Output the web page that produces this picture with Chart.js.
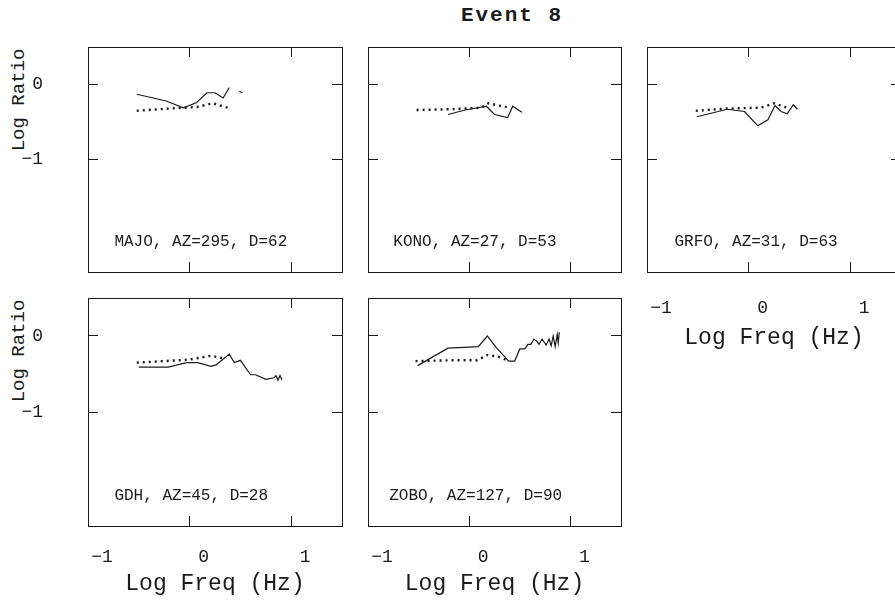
<!DOCTYPE html>
<html>
<head>
<meta charset="utf-8">
<title>Event 8</title>
<script src="https://cdn.jsdelivr.net/npm/chart.js@4.4.1/dist/chart.umd.min.js"></script>
<style>
  body {
    margin: 0;
    width: 895px;
    height: 606px;
    overflow: hidden;
    position: relative;
    background: #fff;
    color: #1a1a1a;
    font-family: "Liberation Mono", monospace;
  }
  canvas { position: absolute; }
  .title {
    position: absolute;
    left: 512px;
    top: 15px;
    transform: translate(-50%, -50%);
    font-weight: bold;
    font-size: 21px;
    letter-spacing: 2px;
    white-space: nowrap;
  }
  .ylabel {
    position: absolute;
    left: 19px;
    font-size: 19px;
    white-space: nowrap;
    transform: translate(-50%, -50%) rotate(-90deg);
  }
</style>
</head>
<body>
<div class="title">Event 8</div>
<div class="ylabel" style="top: 100px">Log Ratio</div>
<div class="ylabel" style="top: 351px">Log Ratio</div>

<script>
// axis ticks (the reference prints only these)
const xTickVals = [-1, 0, 1];
const xTickLabels = ["\u22121", "0", "1"];
const yTickVals = [-1, 0];
const yTickLabels = ["\u22121", "0"];

const stations = [
  "MAJO, AZ=295, D=62",
  "KONO, AZ=27, D=53",
  "GRFO, AZ=31, D=63",
  "GDH, AZ=45, D=28",
  "ZOBO, AZ=127, D=90",
];

// observed ratio (solid) and model ratio (dotted), log freq vs log ratio
const majoObsX = [-0.52, -0.23, -0.06, 0.07, 0.17, 0.25, 0.33, 0.39, 0.45, 0.49, 0.52];
const majoObsY = [-0.13, -0.22, -0.31, -0.24, -0.11, -0.11, -0.18, -0.04, null, -0.09, -0.11];
const majoModX = [-0.52, -0.3, -0.06, 0.07, 0.17, 0.23, 0.3, 0.38];
const majoModY = [-0.35, -0.33, -0.31, -0.3, -0.27, -0.25, -0.28, -0.31];

const konoObsX = [-0.21, -0.04, 0.17, 0.25, 0.38, 0.43, 0.52];
const konoObsY = [-0.4, -0.34, -0.29, -0.4, -0.44, -0.29, -0.37];
const konoModX = [-0.52, -0.2, 0.12, 0.19, 0.29, 0.4];
const konoModY = [-0.34, -0.33, -0.31, -0.25, -0.28, -0.31];

const grfoObsX = [-0.51, -0.21, -0.04, 0.09, 0.19, 0.26, 0.32, 0.38, 0.44, 0.48];
const grfoObsY = [-0.43, -0.33, -0.36, -0.55, -0.47, -0.28, -0.36, -0.39, -0.27, -0.33];
const grfoModX = [-0.52, -0.21, 0.12, 0.25, 0.38];
const grfoModY = [-0.35, -0.32, -0.31, -0.25, -0.31];

const gdhObsX = [-0.5, -0.21, -0.03, 0.08, 0.21, 0.26, 0.39, 0.44, 0.5, 0.6, 0.65, 0.75, 0.83, 0.85, 0.87, 0.89, 0.91];
const gdhObsY = [-0.41, -0.41, -0.35, -0.35, -0.4, -0.38, -0.24, -0.35, -0.32, -0.51, -0.51, -0.57, -0.55, -0.52, -0.58, -0.52, -0.58];
const gdhModX = [-0.52, -0.25, 0, 0.21, 0.36];
const gdhModY = [-0.35, -0.33, -0.31, -0.26, -0.3];

const zoboObsX = [-0.51, -0.21, -0.05, 0.09, 0.18, 0.26, 0.39, 0.45, 0.5, 0.55, 0.58, 0.61, 0.64, 0.67, 0.69, 0.72, 0.76, 0.79, 0.81, 0.83, 0.85, 0.87, 0.88, 0.89];
const zoboObsY = [-0.39, -0.16, -0.15, -0.14, 0.0, -0.14, -0.33, -0.33, -0.17, -0.17, -0.11, -0.11, -0.04, -0.07, -0.11, -0.04, -0.12, -0.04, -0.13, 0.0, -0.14, 0.02, -0.09, 0.05];
const zoboModX = [-0.53, -0.2, 0.08, 0.18, 0.28, 0.38];
const zoboModY = [-0.33, -0.32, -0.32, -0.25, -0.27, -0.32];

const ink = "#1a1a1a";
const monoFamily = "'Liberation Mono', monospace";

// panel layout: plot box [left, top, width, height] in page pixels
const panels = [
  { name: 0, obsX: majoObsX, obsY: majoObsY, modX: majoModX, modY: majoModY, box: [88, 47, 254, 225], yLabels: true, xLabels: false, textX: -0.74 },
  { name: 1, obsX: konoObsX, obsY: konoObsY, modX: konoModX, modY: konoModY, box: [368, 47, 253, 225], yLabels: false, xLabels: false, textX: -0.75 },
  { name: 2, obsX: grfoObsX, obsY: grfoObsY, modX: grfoModX, modY: grfoModY, box: [647, 47, 254, 225], yLabels: false, xLabels: true, textX: -0.73, labelPad: 35, titlePad: 2 },
  { name: 3, obsX: gdhObsX, obsY: gdhObsY, modX: gdhModX, modY: gdhModY, box: [88, 298, 254, 228], yLabels: true, xLabels: true, textX: -0.74, labelPad: 30, titlePad: 10 },
  { name: 4, obsX: zoboObsX, obsY: zoboObsY, modX: zoboModX, modY: zoboModY, box: [368, 298, 253, 228], yLabels: false, xLabels: true, textX: -0.79, labelPad: 30, titlePad: 10 },
];

const captionPlugin = {
  id: "caption",
  afterDatasetsDraw(chart, args, opts) {
    const { ctx, scales } = chart;
    ctx.save();
    ctx.font = "16px " + monoFamily;
    ctx.fillStyle = ink;
    ctx.textBaseline = "middle";
    ctx.textAlign = "left";
    ctx.fillText(opts.text, scales.x.getPixelForValue(opts.x), scales.y.getPixelForValue(opts.y));
    ctx.restore();
  },
};

function toPoints(xs, ys) {
  return xs.map((x, i) => ({ x: x, y: ys[i] }));
}

function makeAxis(position, min, max, vals, labels, show, size, pad, extra) {
  const horizontal = position === "top" || position === "bottom";
  return Object.assign(
    {
      type: "linear",
      position: position,
      min: min,
      max: max,
      afterBuildTicks: (s) => {
        s.ticks = vals.map((v) => ({ value: v }));
      },
      afterFit: (s) => {
        if (horizontal) s.height = size;
        else s.width = size;
        // keep the plot box where it is, labels may hang over
        s.paddingTop = s.paddingBottom = s.paddingLeft = s.paddingRight = 0;
      },
      grid: { drawOnChartArea: false, drawTicks: true, tickLength: -10, color: ink, tickWidth: 1 },
      border: { display: true, color: ink, width: 1 },
      ticks: {
        display: show,
        autoSkip: false,
        maxRotation: 0,
        color: ink,
        font: { family: monoFamily, size: 18 },
        padding: pad,
        labelOffset: horizontal ? 14 : 0,
        callback: (v, i) => labels[i],
      },
    },
    extra || {}
  );
}

function makePanel(p) {
  const L = 90, R = 6, T = 6, B = 82;
  const [left, top, w, h] = p.box;
  const canvas = document.createElement("canvas");
  canvas.width = w + L + R;
  canvas.height = h + T + B;
  canvas.style.left = left - L + "px";
  canvas.style.top = top - T + "px";
  document.body.appendChild(canvas);

  const xTitle = p.xLabels
    ? {
        title: {
          display: true,
          text: "Log Freq (Hz)",
          color: ink,
          font: { family: monoFamily, size: 23 },
          padding: { top: 0, bottom: p.titlePad },
        },
      }
    : {};

  new Chart(canvas, {
    type: "line",
    data: {
      datasets: [
        {
          data: toPoints(p.modX, p.modY),
          borderColor: ink,
          borderWidth: 2.4,
          borderDash: [2, 4],
          borderCapStyle: "butt",
          pointRadius: 0,
        },
        {
          data: toPoints(p.obsX, p.obsY),
          borderColor: ink,
          borderWidth: 1.2,
          pointRadius: 0,
          spanGaps: false,
        },
      ],
    },
    options: {
      responsive: false,
      animation: false,
      events: [],
      layout: { padding: 0 },
      plugins: {
        legend: { display: false },
        tooltip: { enabled: false },
        caption: { text: stations[p.name], x: p.textX, y: -2.1 },
      },
      scales: {
        x: makeAxis("bottom", -1, 1.5, xTickVals, xTickLabels, p.xLabels, B, p.labelPad || 25, xTitle),
        x2: makeAxis("top", -1, 1.5, xTickVals, xTickLabels, false, T, 0),
        y: makeAxis("left", -2.5, 0.5, yTickVals, yTickLabels, p.yLabels, L, 55),
        y2: makeAxis("right", -2.5, 0.5, yTickVals, yTickLabels, false, R, 0),
      },
    },
    plugins: [captionPlugin],
  });
}

panels.forEach(makePanel);
</script>
</body>
</html>
